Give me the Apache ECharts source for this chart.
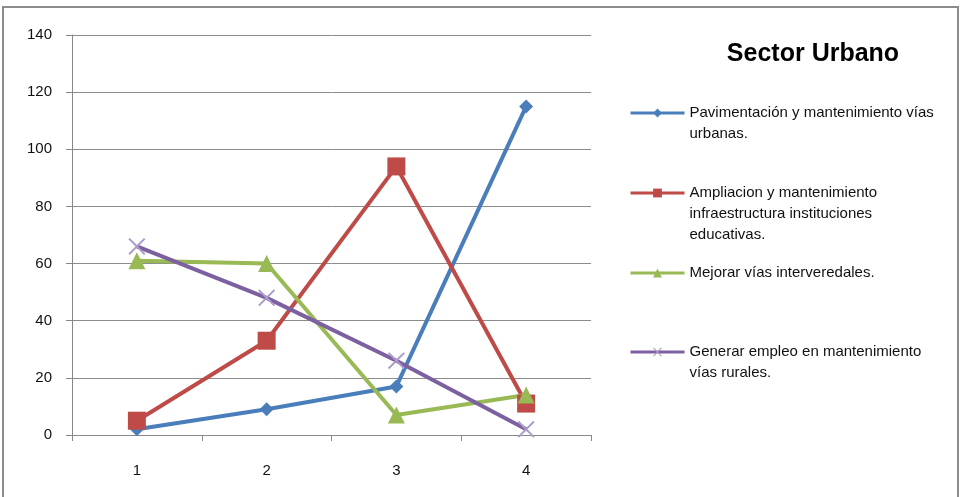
<!DOCTYPE html>
<html><head><meta charset="utf-8">
<script src="https://cdn.jsdelivr.net/npm/echarts@6/dist/echarts.min.js"></script>
<style>html,body{margin:0;padding:0;background:#fff}#c{width:961px;height:497px}</style>
</head><body><div id="c"></div>
<script>
const categories = ['1', '2', '3', '4'];
const seriesNames = [
  'Pavimentación y mantenimiento vías\nurbanas.',
  'Ampliacion y mantenimiento\ninfraestructura instituciones\neducativas.',
  'Mejorar vías interveredales.',
  'Generar empleo en mantenimiento\nvías rurales.'
];
const pavimentacion = [2, 9, 17, 115];
const ampliacion = [5, 33, 94, 11];
const mejorar = [61, 60, 7, 14];
const generar = [66, 48, 26, 2];
const yTicks = {min: 0, max: 140, interval: 20};

const FONT = '"Liberation Sans Narrow", "Arial Narrow", "Liberation Sans", sans-serif';
const xPath = 'path://M0,0.8L0.8,0L5,4.2L9.2,0L10,0.8L5.8,5L10,9.2L9.2,10L5,5.8L0.8,10L0,9.2L4.2,5Z';
const colors = ['#4a7ebb', '#be4b48', '#98b954', '#7d60a0'];
const symbols = ['diamond', 'rect', 'triangle', xPath];
const symSizes = [14, 18, 17, 17];
const symColors = ['#4a7ebb', '#be4b48', '#98b954', '#a99bcb'];
const dataSets = [pavimentacion, ampliacion, mejorar, generar];
const LH = 21;
const firstLineY = [113, 193, 273, 352];
const lineCounts = [2, 3, 1, 2];

const chart = echarts.init(document.getElementById('c'));
chart.setOption({
  animation: false,
  backgroundColor: '#fff',
  title: {
    text: 'Sector Urbano', left: 808, top: 37, textAlign: 'center',
    textStyle: {fontFamily: FONT, fontSize: 25, fontWeight: 'bold', color: '#000'}
  },
  graphic: [{
    type: 'rect', shape: {x: 3, y: 7, width: 955, height: 500},
    style: {fill: 'none', stroke: '#8c8c8c', lineWidth: 2}, silent: true
  }],
  legend: seriesNames.map((n, i) => {
    const pad = lineCounts[i] - 1;
    const total = lineCounts[i] + pad;
    return {
      data: [n], orient: 'vertical', left: 629, padding: 0,
      top: firstLineY[i] - total * LH / 2,
      itemWidth: 54, itemHeight: 11, itemGap: 4,
      lineStyle: {width: 3},
      formatter: name => '\n'.repeat(pad) + name,
      textStyle: {fontFamily: FONT, fontSize: 15, color: '#111', lineHeight: LH}
    };
  }),
  grid: {left: 72, top: 35, right: 370, bottom: 62},
  xAxis: {
    type: 'category', data: categories, boundaryGap: true,
    axisLine: {lineStyle: {color: '#888', width: 1}},
    axisTick: {show: true, length: 6, inside: false, lineStyle: {color: '#888'}},
    axisLabel: {fontFamily: FONT, fontSize: 15, color: '#111', margin: 28},
    splitLine: {show: false}
  },
  yAxis: {
    type: 'value', min: yTicks.min, max: yTicks.max, interval: yTicks.interval,
    axisLine: {show: true, lineStyle: {color: '#888'}},
    axisTick: {show: true, length: 6, lineStyle: {color: '#888'}},
    axisLabel: {fontFamily: FONT, fontSize: 15, color: '#111', margin: 20},
    splitLine: {show: true, lineStyle: {color: '#8c8c8c', width: 1}}
  },
  series: seriesNames.map((n, i) => ({
    name: n, type: 'line', data: dataSets[i],
    symbol: symbols[i], symbolSize: symSizes[i],
    lineStyle: {color: colors[i], width: 4},
    itemStyle: {color: symColors[i]},
    color: colors[i]
  }))
});
</script></body></html>
